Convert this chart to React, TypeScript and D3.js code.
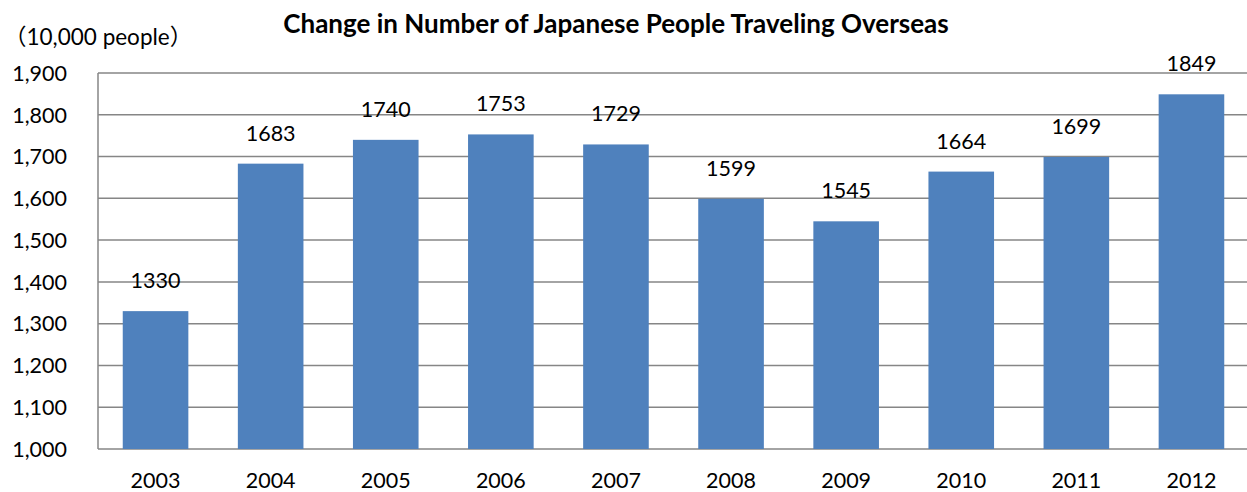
import React from "react";
import * as d3 from "d3";

const years = ["2003", "2004", "2005", "2006", "2007", "2008", "2009", "2010", "2011", "2012"];
const travelers = [1330, 1683, 1740, 1753, 1729, 1599, 1545, 1664, 1699, 1849];
const yTicks = [1000, 1100, 1200, 1300, 1400, 1500, 1600, 1700, 1800, 1900];
const title = "Change in Number of Japanese People Traveling Overseas";
const unitOpen = "（";
const unitText = "10,000 people";
const unitClose = "）";

const W = 1247;
const H = 492;
const left = 98;
const right = 1249;
const top = 73;
const bottom = 449;
const font = "Lato, 'Open Sans', sans-serif";
const cjk = "'Noto Sans CJK JP', sans-serif";
const fs = 21.5;

export default function App() {
  const x = d3.scaleBand<string>().domain(years).range([left, right]).paddingInner(0.43).paddingOuter(0.215);
  const y = d3.scaleLinear().domain([1000, 1900]).range([bottom, top]);
  const fmt = d3.format(",");
  return (
    <svg width={W} height={H} style={{ position: "absolute", left: 0, top: 0, background: "#fff" }}>
      <text x={616} y={33} textAnchor="middle" fontFamily={font} fontWeight="bold" fontSize={26} fill="#000">
        {title}
      </text>
      <text x={4} y={45} fontFamily={font} fontSize={22.5} fill="#000">
        <tspan fontFamily={cjk}>{unitOpen}</tspan>
        <tspan>{unitText}</tspan>
        <tspan fontFamily={cjk}>{unitClose}</tspan>
      </text>
      {yTicks.map((t) => (
        <g key={t}>
          <line x1={left} x2={W} y1={y(t)} y2={y(t)} stroke="#868686" strokeWidth={1.5} />
          <text x={67} y={y(t)} dy="0.36em" textAnchor="end" fontFamily={font} fontSize={fs} fill="#000">
            {fmt(t)}
          </text>
        </g>
      ))}
      <line x1={left} x2={left} y1={top} y2={bottom} stroke="#868686" strokeWidth={1.5} />
      {years.map((yr, i) => {
        const v = travelers[i];
        const bx = x(yr)!;
        const bw = x.bandwidth();
        return (
          <g key={yr}>
            <rect x={bx} y={y(v)} width={bw} height={y(1000) - y(v)} fill="#4F81BD" />
            <text x={bx + bw / 2} y={y(v) - 23} textAnchor="middle" fontFamily={font} fontSize={fs} fill="#000">
              {v}
            </text>
            <text x={bx + bw / 2} y={488} textAnchor="middle" fontFamily={font} fontSize={fs} fill="#000">
              {yr}
            </text>
          </g>
        );
      })}
    </svg>
  );
}
